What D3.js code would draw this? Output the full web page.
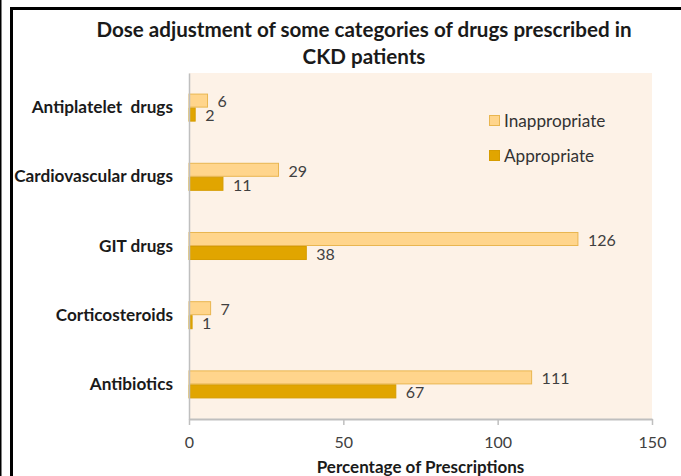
<!DOCTYPE html>
<html>
<head>
<meta charset="utf-8">
<script src="https://cdn.jsdelivr.net/npm/d3@7"></script>
<style>
  html, body { margin: 0; padding: 0; background: #ffffff; }
  svg { display: block; font-family: Lato, "Open Sans", sans-serif; }
  text { white-space: pre; }
</style>
</head>
<body>
<svg id="chart" width="681" height="476"></svg>
<script>
// Drug categories, top to bottom
const categories = ["Antiplatelet  drugs", "Cardiovascular drugs", "GIT drugs", "Corticosteroids", "Antibiotics"];
const seriesNames = ["Inappropriate", "Appropriate"];
const inappropriate = [6, 29, 126, 7, 111];
const appropriate = [2, 11, 38, 1, 67];
const xTicks = [0, 50, 100, 150];
const titleLines = ["Dose adjustment of some categories of drugs prescribed in", "CKD patients"];
const xTitle = "Percentage of Prescriptions";

const fills = { Inappropriate: "#FFD58C", Appropriate: "#E1A500" };
const strokes = { Inappropriate: "#E9B650", Appropriate: "#D69C00" };

const svg = d3.select("#chart");
const W = 681, H = 476;
const plot = { left: 189, right: 652, top: 73, bottom: 419 };

// frame lines
svg.append("rect").attr("x", 0).attr("y", 0).attr("width", 1.5).attr("height", H).attr("fill", "#000");
svg.append("rect").attr("x", 10).attr("y", 7).attr("width", 3).attr("height", H - 7).attr("fill", "#000");
svg.append("rect").attr("x", 10).attr("y", 7).attr("width", W - 10).attr("height", 3).attr("fill", "#000");

// title
svg.append("g").selectAll("text").data(titleLines).join("text")
  .attr("x", 364).attr("y", (d, i) => 37 + i * 27)
  .attr("text-anchor", "middle")
  .attr("font-size", 20.6).attr("font-weight", "bold").attr("fill", "#1a1a1a")
  .text(d => d);

const x = d3.scaleLinear().domain([0, 150]).range([plot.left, plot.right]);
const y = d3.scaleBand().domain(categories).range([plot.top, plot.bottom]).paddingInner(0.595).paddingOuter(0.2975);
const ySub = d3.scaleBand().domain(seriesNames).range([0, y.bandwidth()]);

// plot background
svg.append("rect").attr("x", plot.left).attr("y", plot.top)
  .attr("width", plot.right - plot.left).attr("height", plot.bottom - plot.top)
  .attr("fill", "#FDF2E7");

const rows = categories.map((c, i) => ({ category: c, values: [
  { series: "Inappropriate", value: inappropriate[i] },
  { series: "Appropriate", value: appropriate[i] }
]}));

const groups = svg.append("g").selectAll("g").data(rows).join("g")
  .attr("transform", d => `translate(0,${y(d.category)})`);

groups.selectAll("rect").data(d => d.values).join("rect")
  .attr("x", x(0)).attr("y", d => ySub(d.series) + 0.5)
  .attr("width", d => x(d.value) - x(0)).attr("height", ySub.bandwidth() - 1)
  .attr("fill", d => fills[d.series]).attr("stroke", d => strokes[d.series]).attr("stroke-width", 1);

groups.selectAll("text.val").data(d => d.values).join("text")
  .attr("class", "val")
  .attr("x", d => x(d.value) + 10).attr("y", d => ySub(d.series) + ySub.bandwidth() / 2 + 1)
  .attr("dy", "0.36em")
  .attr("font-size", 16).attr("fill", "#404040")
  .text(d => d.value);

// category axis
const yAxis = svg.append("g").attr("transform", `translate(${plot.left},0)`)
  .call(d3.axisLeft(y).tickSize(0).tickPadding(16));
yAxis.select(".domain").attr("stroke", "#BFBFBF").attr("stroke-width", 1.5);
yAxis.selectAll("text").attr("font-size", 17.2).attr("font-weight", "bold").attr("fill", "#1a1a1a")
  .attr("font-family", "Lato, sans-serif");

// value axis
const xAxis = svg.append("g").attr("transform", `translate(0,${plot.bottom})`)
  .call(d3.axisBottom(x).tickValues(xTicks).tickSize(6).tickPadding(12).tickSizeOuter(0));
xAxis.select(".domain").attr("stroke", "#BFBFBF").attr("stroke-width", 2);
xAxis.selectAll(".tick line").attr("stroke", "#BFBFBF").attr("stroke-width", 1.5);
xAxis.selectAll("text").attr("font-size", 16).attr("fill", "#404040").attr("font-family", "Lato, sans-serif");

svg.append("text").attr("x", (plot.left + plot.right) / 2).attr("y", 473)
  .attr("text-anchor", "middle").attr("font-size", 17).attr("font-weight", "bold").attr("fill", "#1a1a1a")
  .text(xTitle);

// legend
const legend = svg.append("g").selectAll("g").data(seriesNames).join("g")
  .attr("transform", (d, i) => `translate(489,${115 + i * 35})`);
legend.append("rect").attr("x", 0.5).attr("y", 0.5).attr("width", 10).attr("height", 10)
  .attr("fill", d => fills[d]).attr("stroke", d => strokes[d]);
legend.append("text").attr("x", 15).attr("y", 5.5).attr("dy", "0.36em")
  .attr("font-size", 17.2).attr("fill", "#333").text(d => d);
</script>
</body>
</html>
